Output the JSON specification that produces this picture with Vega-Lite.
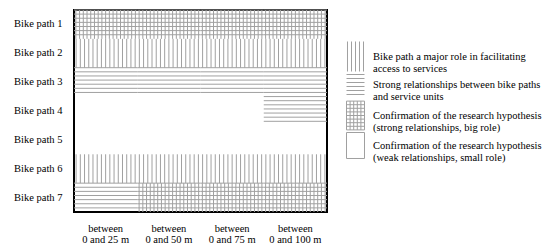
{
  "$schema": "https://vega.github.io/schema/vega-lite/v6.json",
  "autosize": "none",
  "padding": {"left": 74, "top": 10, "right": 223, "bottom": 40},
  "width": 253,
  "height": 202,
  "config": {
    "view": {"stroke": "black", "strokeWidth": 2},
    "font": "Liberation Serif"
  },
  "layer": [
    {
      "data": {"values": [
        {"path": "Bike path 1", "dist": "0 and 25 m", "pattern": "grid"},
        {"path": "Bike path 1", "dist": "0 and 50 m", "pattern": "grid"},
        {"path": "Bike path 1", "dist": "0 and 75 m", "pattern": "grid"},
        {"path": "Bike path 1", "dist": "0 and 100 m", "pattern": "grid"},
        {"path": "Bike path 2", "dist": "0 and 25 m", "pattern": "vertical"},
        {"path": "Bike path 2", "dist": "0 and 50 m", "pattern": "vertical"},
        {"path": "Bike path 2", "dist": "0 and 75 m", "pattern": "vertical"},
        {"path": "Bike path 2", "dist": "0 and 100 m", "pattern": "vertical"},
        {"path": "Bike path 3", "dist": "0 and 25 m", "pattern": "horizontal"},
        {"path": "Bike path 3", "dist": "0 and 50 m", "pattern": "horizontal"},
        {"path": "Bike path 3", "dist": "0 and 75 m", "pattern": "horizontal"},
        {"path": "Bike path 3", "dist": "0 and 100 m", "pattern": "horizontal"},
        {"path": "Bike path 4", "dist": "0 and 25 m", "pattern": "blank"},
        {"path": "Bike path 4", "dist": "0 and 50 m", "pattern": "blank"},
        {"path": "Bike path 4", "dist": "0 and 75 m", "pattern": "blank"},
        {"path": "Bike path 4", "dist": "0 and 100 m", "pattern": "horizontal"},
        {"path": "Bike path 5", "dist": "0 and 25 m", "pattern": "blank"},
        {"path": "Bike path 5", "dist": "0 and 50 m", "pattern": "blank"},
        {"path": "Bike path 5", "dist": "0 and 75 m", "pattern": "blank"},
        {"path": "Bike path 5", "dist": "0 and 100 m", "pattern": "blank"},
        {"path": "Bike path 6", "dist": "0 and 25 m", "pattern": "vertical"},
        {"path": "Bike path 6", "dist": "0 and 50 m", "pattern": "vertical"},
        {"path": "Bike path 6", "dist": "0 and 75 m", "pattern": "vertical"},
        {"path": "Bike path 6", "dist": "0 and 100 m", "pattern": "vertical"},
        {"path": "Bike path 7", "dist": "0 and 25 m", "pattern": "horizontal"},
        {"path": "Bike path 7", "dist": "0 and 50 m", "pattern": "grid"},
        {"path": "Bike path 7", "dist": "0 and 75 m", "pattern": "grid"},
        {"path": "Bike path 7", "dist": "0 and 100 m", "pattern": "grid"}
      ]},
      "mark": {"type": "point", "filled": false, "stroke": "#a0a0a0", "strokeWidth": 1, "size": 4000.56, "opacity": 1},
      "encoding": {
        "x": {
          "field": "dist", "type": "ordinal",
          "sort": ["0 and 25 m", "0 and 50 m", "0 and 75 m", "0 and 100 m"],
          "scale": {"type": "band", "paddingInner": 0, "paddingOuter": 0},
          "axis": {"title": null, "domain": false, "ticks": false, "labelAngle": 0, "labelPadding": 11, "labelFont": "Liberation Serif", "labelFontSize": 10.5, "labelColor": "black", "labelLineHeight": 11.5, "labelExpr": "['between', datum.label]"}
        },
        "y": {
          "field": "path", "type": "ordinal",
          "scale": {"type": "band", "paddingInner": 0, "paddingOuter": 0},
          "axis": {"title": null, "domain": false, "ticks": false, "labelPadding": 12, "labelFont": "Liberation Serif", "labelFontSize": 10.5, "labelColor": "black"}
        },
        "shape": {
          "field": "pattern", "type": "nominal", "legend": null,
          "scale": {
            "domain": ["vertical", "horizontal", "grid", "blank"],
            "range": [
              "M-0.9333,-0.4562L-0.9333,0.4562M-0.8,-0.4562L-0.8,0.4562M-0.6667,-0.4562L-0.6667,0.4562M-0.5333,-0.4562L-0.5333,0.4562M-0.4,-0.4562L-0.4,0.4562M-0.2667,-0.4562L-0.2667,0.4562M-0.1333,-0.4562L-0.1333,0.4562M0,-0.4562L0,0.4562M0.1333,-0.4562L0.1333,0.4562M0.2667,-0.4562L0.2667,0.4562M0.4,-0.4562L0.4,0.4562M0.5333,-0.4562L0.5333,0.4562M0.6667,-0.4562L0.6667,0.4562M0.8,-0.4562L0.8,0.4562M0.9333,-0.4562L0.9333,0.4562",
              "M-1,-0.4562L1,-0.4562M-1,-0.3259L1,-0.3259M-1,-0.1955L1,-0.1955M-1,-0.0652L1,-0.0652M-1,0.0652L1,0.0652M-1,0.1955L1,0.1955M-1,0.3259L1,0.3259",
              "M-0.9412,-0.4562L-0.9412,0.4562M-0.8235,-0.4562L-0.8235,0.4562M-0.7059,-0.4562L-0.7059,0.4562M-0.5882,-0.4562L-0.5882,0.4562M-0.4706,-0.4562L-0.4706,0.4562M-0.3529,-0.4562L-0.3529,0.4562M-0.2353,-0.4562L-0.2353,0.4562M-0.1176,-0.4562L-0.1176,0.4562M0,-0.4562L0,0.4562M0.1176,-0.4562L0.1176,0.4562M0.2353,-0.4562L0.2353,0.4562M0.3529,-0.4562L0.3529,0.4562M0.4706,-0.4562L0.4706,0.4562M0.5882,-0.4562L0.5882,0.4562M0.7059,-0.4562L0.7059,0.4562M0.8235,-0.4562L0.8235,0.4562M0.9412,-0.4562L0.9412,0.4562M-1,-0.4562L1,-0.4562M-1,-0.3259L1,-0.3259M-1,-0.1955L1,-0.1955M-1,-0.0652L1,-0.0652M-1,0.0652L1,0.0652M-1,0.1955L1,0.1955M-1,0.3259L1,0.3259",
              "M0,0"
            ]
          }
        }
      }
    },
    {
      "data": {"values": [
        {"label": "Bike path a major role in facilitating|access to services"},
        {"label": "Strong relationships between bike paths|and service units"},
        {"label": "Confirmation of the research hypothesis|(strong relationships, big role)"},
        {"label": "Confirmation of the research hypothesis|(weak relationships, small role)"}
      ]},
      "mark": {"type": "point", "filled": false, "opacity": 0},
      "encoding": {
        "shape": {
          "field": "label", "type": "nominal",
          "scale": {
            "domain": [
              "Bike path a major role in facilitating|access to services",
              "Strong relationships between bike paths|and service units",
              "Confirmation of the research hypothesis|(strong relationships, big role)",
              "Confirmation of the research hypothesis|(weak relationships, small role)"
            ],
            "range": [
              "M-0.889,-1.667L-0.889,1.667M-0.444,-1.667L-0.444,1.667M0,-1.667L0,1.667M0.444,-1.667L0.444,1.667M0.889,-1.667L0.889,1.667",
              "M-1,-1.111L1,-1.111M-1,-0.667L1,-0.667M-1,-0.222L1,-0.222M-1,0.222L1,0.222M-1,0.667L1,0.667M-1,1.111L1,1.111",
              "M-1,-1.6L1,-1.6L1,1.6L-1,1.6ZM-0.6,-1.6L-0.6,1.6M-0.2,-1.6L-0.2,1.6M0.2,-1.6L0.2,1.6M0.6,-1.6L0.6,1.6M-1,-1.2L1,-1.2M-1,-0.8L1,-0.8M-1,-0.4L1,-0.4M-1,0L1,0M-1,0.4L1,0.4M-1,0.8L1,0.8M-1,1.2L1,1.2",
              "M-1,-1.444L1,-1.444L1,1.444L-1,1.444Z"
            ]
          },
          "legend": {
            "title": null,
            "orient": "none",
            "legendX": 272,
            "legendY": 37,
            "padding": 0,
            "symbolSize": 324,
            "symbolOpacity": 1,
            "symbolStrokeColor": "#a0a0a0",
            "symbolFillColor": "transparent",
            "symbolStrokeWidth": 1,
            "labelFont": "Liberation Serif",
            "labelFontSize": 10.5,
            "labelColor": "black",
            "labelLimit": 0,
            "labelOffset": 8,
            "rowPadding": -4,
            "labelExpr": "split(datum.label, '|')",
            "encode": {"labels": {"update": {"lineHeight": {"value": 10.5}}}}
          }
        }
      }
    }
  ],
  "resolve": {"scale": {"shape": "independent"}, "legend": {"shape": "independent"}}
}
